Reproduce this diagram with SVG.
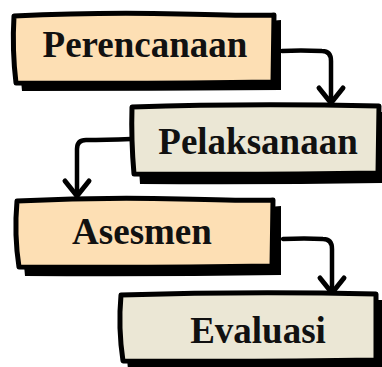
<svg xmlns="http://www.w3.org/2000/svg" width="382" height="367" viewBox="0 0 382 367">
<style>
.box{stroke:#000;stroke-width:5;stroke-linejoin:round}
.shadow{fill:#000}
.peach{fill:#fddfb4}
.beige{fill:#ebe7d5}
.lbl{font-family:"Liberation Serif","Times New Roman",serif;font-weight:bold;font-size:37px;fill:#111;text-anchor:middle}
.conn{fill:none;stroke:#000;stroke-width:4.5;stroke-linecap:round;stroke-linejoin:round}
</style>
<defs>
<marker id="arr" markerUnits="userSpaceOnUse" markerWidth="40" markerHeight="40" refX="0" refY="0" viewBox="-20 -20 40 40" orient="auto" overflow="visible">
<path d="M-15,-12 L0,0 L-15,12" fill="none" stroke="#000" stroke-width="5" stroke-linecap="round" stroke-linejoin="round"/>
</marker>
</defs>
<g id="connectors">
<path class="conn" d="M282,51 Q300,50 322,51 Q331,51 331,61 L331,103" marker-end="url(#arr)"/>
<path class="conn" d="M131,139 Q105,140 86,140 Q77,140 77,149 L77,196" marker-end="url(#arr)"/>
<path class="conn" d="M283,239 Q305,238 323,239 Q332,239 332,249 L332,293" marker-end="url(#arr)"/>
</g>
<g id="perencanaan">
<path class="shadow" d="M20,22 Q100,18 180,20 T281,20 L281,90 Q150,91 22,91 Q18,55 20,22 Z"/>
<path class="box peach" d="M14,16 Q100,12 180,14 T274,15 L273,82 Q150,84 16,83 Q12,50 14,16 Z"/>
<text class="lbl" x="145" y="57">Perencanaan</text>
</g>
<g id="pelaksanaan">
<path class="shadow" d="M138,113 Q250,110 386,112 L386,183 Q260,185 140,184 Q137,150 138,113 Z"/>
<path class="box beige" d="M132,107 Q250,103 379,106 L378,173 Q260,175 134,174 Q131,140 132,107 Z"/>
<text class="lbl" x="258" y="154">Pelaksanaan</text>
</g>
<g id="asesmen">
<path class="shadow" d="M23,207 Q100,204 180,206 T281,206 L281,275 Q150,277 25,276 Q21,240 23,207 Z"/>
<path class="box peach" d="M17,201 Q100,197 180,199 T273,200 L272,266 Q150,268 19,267 Q14,235 17,201 Z"/>
<text class="lbl" x="142" y="244">Asesmen</text>
</g>
<g id="evaluasi">
<path class="shadow" d="M126,301 Q250,298 384,300 L383,368 Q260,370 128,369 Q124,335 126,301 Z"/>
<path class="box beige" d="M121,295 Q250,291 376,294 L376,360 Q260,362 123,361 Q118,328 121,295 Z"/>
<text class="lbl" x="258" y="343">Evaluasi</text>
</g>
</svg>
